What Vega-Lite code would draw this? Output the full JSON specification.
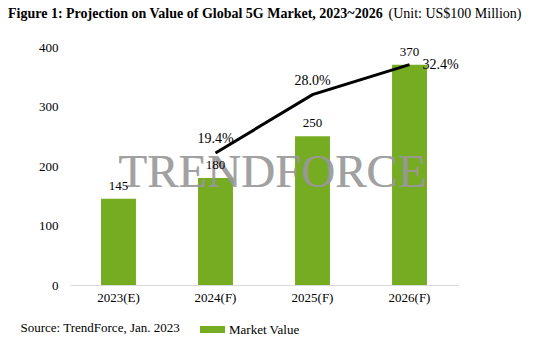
{
  "$schema": "https://vega.github.io/schema/vega-lite/v6.json",
  "width": 388,
  "height": 238,
  "autosize": "none",
  "padding": {"left": 70, "top": 47, "right": 97, "bottom": 66},
  "background": "white",
  "config": {"font": "Liberation Serif", "view": {"stroke": null}},
  "title": {
    "text": "Figure 1: Projection on Value of Global 5G Market, 2023~2026",
    "anchor": "start",
    "frame": "group",
    "dx": -62,
    "offset": 0,
    "dy": 26,
    "baseline": "alphabetic",
    "fontSize": 14,
    "fontWeight": "bold",
    "color": "black"
  },
  "data": {
    "values": [
      {"year": "2023(E)", "value": 145, "growth": null, "growth_label": ""},
      {"year": "2024(F)", "value": 180, "growth": 19.4, "growth_label": "19.4%"},
      {"year": "2025(F)", "value": 250, "growth": 28.0, "growth_label": "28.0%"},
      {"year": "2026(F)", "value": 370, "growth": 32.4, "growth_label": "32.4%"}
    ]
  },
  "encoding": {
    "x": {
      "field": "year",
      "type": "nominal",
      "sort": null,
      "scale": {"paddingInner": 0.64, "paddingOuter": 0.32},
      "axis": {
        "labelAngle": 0,
        "ticks": false,
        "domainColor": "#d9d9d9",
        "labelFontSize": 13,
        "labelColor": "black",
        "labelPadding": 6,
        "title": "Source: TrendForce, Jan. 2023",
        "titleFontSize": 13,
        "titleFontWeight": "normal",
        "titleColor": "black",
        "titleAnchor": "start",
        "titleAlign": "left",
        "titleBaseline": "middle",
        "titleX": -50,
        "titleY": 42
      }
    }
  },
  "layer": [
    {
      "layer": [
        {
          "mark": {"type": "bar"},
          "encoding": {
            "y": {
              "field": "value",
              "type": "quantitative",
              "scale": {"domain": [0, 400]},
              "axis": {
                "values": [0, 100, 200, 300, 400],
                "grid": false,
                "ticks": false,
                "domain": false,
                "labelFontSize": 13,
                "labelColor": "black",
                "labelPadding": 12,
                "title": "(Unit: US$100 Million)",
                "titleAngle": 0,
                "titleFontSize": 14,
                "titleFontWeight": "normal",
                "titleColor": "black",
                "titleAlign": "left",
                "titleBaseline": "middle",
                "titleX": 318,
                "titleY": -34
              }
            },
            "color": {
              "datum": "Market Value",
              "scale": {"range": ["#76ac22"]},
              "legend": {
                "orient": "none",
                "legendX": 130,
                "legendY": 270,
                "title": null,
                "direction": "horizontal",
                "symbolType": "M-1,-0.28L1,-0.28L1,0.28L-1,0.28Z",
                "symbolSize": 625,
                "symbolStrokeWidth": 0,
                "labelFontSize": 13,
                "labelColor": "black"
              }
            }
          }
        },
        {
          "mark": {"type": "text", "align": "left", "baseline": "alphabetic", "fontSize": 47, "color": "#999999", "opacity": 0.45},
          "encoding": {
            "x": {"datum": "2023(E)"},
            "y": {"datum": 165, "type": "quantitative"},
            "text": {"value": "TRENDFORCE"}
          }
        },
        {
          "mark": {"type": "text", "dy": -13, "fontSize": 13, "color": "black"},
          "encoding": {
            "y": {"field": "value", "type": "quantitative"},
            "text": {"field": "value", "type": "quantitative"}
          }
        }
      ]
    },
    {
      "transform": [{"filter": "datum.growth != null"}],
      "layer": [
        {
          "mark": {"type": "line", "color": "black", "strokeWidth": 3},
          "encoding": {
            "y": {"field": "growth", "type": "quantitative", "scale": {"domain": [0, 35]}, "axis": null}
          }
        },
        {
          "transform": [{"filter": "datum.growth < 30"}],
          "mark": {"type": "text", "dy": -14, "fontSize": 14, "color": "black"},
          "encoding": {
            "y": {"field": "growth", "type": "quantitative"},
            "text": {"field": "growth_label"}
          }
        },
        {
          "transform": [{"filter": "datum.growth > 30"}],
          "mark": {"type": "text", "align": "left", "dx": 13, "fontSize": 14, "color": "black"},
          "encoding": {
            "y": {"field": "growth", "type": "quantitative"},
            "text": {"field": "growth_label"}
          }
        }
      ]
    }
  ],
  "resolve": {"scale": {"y": "independent"}}
}
